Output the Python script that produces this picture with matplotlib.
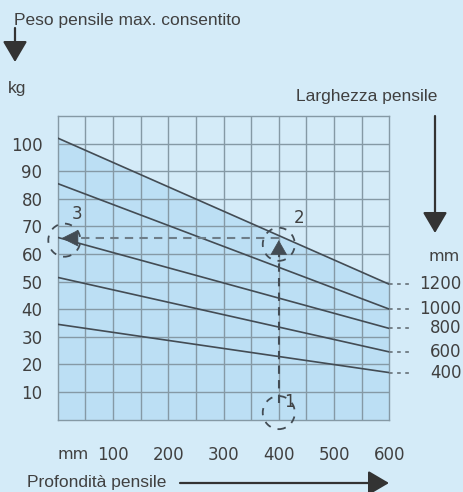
import matplotlib.pyplot as plt
import numpy as np
from matplotlib.patches import Ellipse, FancyArrowPatch

# Chart data
depth = [0, 600]                      # mm
widths = ['1200', '1000', '800', '600', '400']
w1200 = [102, 49]
w1000 = [85.5, 40]
w800 = [66, 33]
w600 = [51.5, 24.5]
w400 = [34.5, 17]
series = [w1200, w1000, w800, w600, w400]

xticks = [100, 200, 300, 400, 500, 600]
yticks = [10, 20, 30, 40, 50, 60, 70, 80, 90, 100]

sel_depth = 400
sel_weight = 66

W, H = 463, 492
bg = '#d4ebf8'
fillc = '#bcdff4'
gridc = '#8599a5'
linec = '#434c54'
textc = '#404040'


def fx(px):
    return px / W


def fy(py):
    return 1 - py / H


fig = plt.figure(figsize=(W / 100, H / 100), dpi=100, facecolor=bg)
ax = fig.add_axes([fx(57.7), fy(419.5), fx(389.3) - fx(57.7), fy(116) - fy(419.5)])
ax.set_facecolor(bg)

ax.set_xlim(0, 600)
ax.set_ylim(0, 110)

# grid every 50 mm / 10 kg
for gx in np.arange(50, 600, 50):
    ax.axvline(gx, color=gridc, lw=1.0, zorder=1)
for gy in np.arange(10, 110, 10):
    ax.axhline(gy, color=gridc, lw=1.0, zorder=1)
ax.set_xticks(xticks)
ax.set_xticklabels([str(t) for t in xticks])
ax.set_yticks(yticks)
ax.set_yticklabels([str(t) for t in yticks])
ax.tick_params(which='both', length=0)
ax.tick_params(axis='x', pad=19, labelsize=12, labelcolor=textc)
ax.tick_params(axis='y', pad=11, labelsize=12, labelcolor=textc)
for s in ax.spines.values():
    s.set_color(gridc)
    s.set_linewidth(1.0)

# shaded region below largest width
ax.fill_between(depth, 0, w1200, color=fillc, zorder=0.5, lw=0)

for vals in series:
    ax.plot(depth, vals, color=linec, lw=1.2, zorder=3)

# dotted connectors and width labels on the right
for lab, vals in zip(widths, series):
    ax.plot([600, 640], [vals[1], vals[1]], color='#6d7880', lw=1.3,
            linestyle=(0, (2, 2.5)), clip_on=False, zorder=3)
    ax.text(731, vals[1], lab, ha='right', va='center', fontsize=12,
            color=textc, clip_on=False)
ax.text(700, 59, 'mm', ha='center', va='center', fontsize=11.5, color=textc)
ax.text(0, -12.6, 'mm', ha='left', va='center', fontsize=11.5, color=textc,
        clip_on=False)

# reading path: 1 -> 2 -> 3
ax.plot([sel_depth, sel_depth], [6, sel_weight - 5], color=linec, lw=1.5,
        linestyle=(0, (4, 3)), zorder=4)
ax.annotate('', xy=(sel_depth, sel_weight), xytext=(sel_depth, sel_weight - 6),
            arrowprops=dict(arrowstyle='-|>,head_length=0.7,head_width=0.4',
                            color=linec, lw=0.5, mutation_scale=14), zorder=5)
ax.plot([sel_depth, 18], [sel_weight - 0.3, sel_weight - 0.3], color='#6d7d88', lw=1.5,
        linestyle=(0, (4, 3)), zorder=4)
ax.annotate('', xy=(2, sel_weight - 0.3), xytext=(25, sel_weight - 0.3),
            arrowprops=dict(arrowstyle='-|>,head_length=0.8,head_width=0.4',
                            color=linec, lw=0.5, mutation_scale=14), zorder=5)

circles = [(400, 2.5, '1', 420, 6.5), (400, 63.5, '2', 436, 73), (12, 65, '3', 35, 74.5)]
for cx, cy, num, tx, ty in circles:
    ax.add_patch(Ellipse((cx, cy), 58, 12, fill=False, edgecolor=linec, lw=1.3,
                         linestyle=(0, (4, 4)), zorder=6, clip_on=False))
    ax.text(tx, ty, num, ha='center', va='center', fontsize=12, color=textc,
            zorder=6)

# outer labels
fig.text(fx(14), fy(20), 'Peso pensile max. consentito', ha='left', va='center',
         fontsize=12.5, family='Liberation Sans', color=textc)
fig.text(fx(8), fy(88), 'kg', ha='left', va='center', fontsize=12.5,
         family='Liberation Sans', color=textc)
fig.text(fx(437), fy(96), 'Larghezza pensile', ha='right', va='center',
         fontsize=12.5, family='Liberation Sans', color=textc)
fig.text(fx(27), fy(482), 'Profondità pensile', ha='left', va='center',
         fontsize=12.5, family='Liberation Sans', color=textc)

arrow_kw = dict(arrowstyle='-|>,head_length=0.85,head_width=0.5', color='#333333',
                lw=1.6, mutation_scale=15, shrinkA=0, shrinkB=0)
fig.add_artist(FancyArrowPatch(
    (fx(15), fy(28)), (fx(15), fy(62)), transform=fig.transFigure, **arrow_kw))
fig.add_artist(FancyArrowPatch(
    (fx(435), fy(116)), (fx(435), fy(233)), transform=fig.transFigure, **arrow_kw))
fig.add_artist(FancyArrowPatch(
    (fx(180), fy(483)), (fx(389), fy(483)), transform=fig.transFigure, **arrow_kw))

fig.savefig('out.png', dpi=100, facecolor=bg)
